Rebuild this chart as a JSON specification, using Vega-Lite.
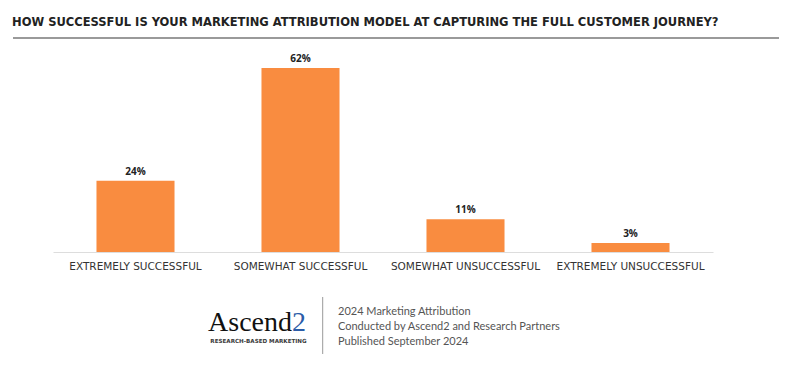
{
  "$schema": "https://vega.github.io/schema/vega-lite/v6.json",
  "background": "white",
  "padding": {"left": 12, "right": 12, "top": 16, "bottom": 0},
  "config": {"view": {"stroke": null}},
  "title": {
    "text": "HOW SUCCESSFUL IS YOUR MARKETING ATTRIBUTION MODEL AT CAPTURING THE FULL CUSTOMER JOURNEY?",
    "anchor": "start",
    "font": "DejaVu Sans Condensed",
    "fontSize": 12.8,
    "fontWeight": "bold",
    "color": "#222222",
    "offset": 8
  },
  "width": 766,
  "height": 320,
  "data": {"values": [
    {"response": "EXTREMELY SUCCESSFUL", "share": 0.24},
    {"response": "SOMEWHAT SUCCESSFUL", "share": 0.62},
    {"response": "SOMEWHAT UNSUCCESSFUL", "share": 0.11},
    {"response": "EXTREMELY UNSUCCESSFUL", "share": 0.03}
  ]},
  "resolve": {"scale": {"x": "independent"}, "axis": {"x": "independent"}},
  "layer": [
    {
      "mark": {"type": "bar", "color": "#F98C40"},
      "encoding": {
        "x": {
          "field": "response", "type": "nominal", "sort": null,
          "scale": {"range": [40, 700], "paddingInner": 0.527, "paddingOuter": 0.2635},
          "axis": {
            "title": null, "labelAngle": 0, "ticks": false, "offset": -106,
            "domainColor": "#dddddd", "domainWidth": 1,
            "labelFont": "DejaVu Sans", "labelFontSize": 10.5, "labelColor": "#333333",
            "labelPadding": 9
          }
        },
        "y": {"field": "share", "type": "quantitative", "scale": {"domain": [-0.3572, 0.7211], "nice": false, "zero": false}, "axis": null}
      }
    },
    {
      "mark": {"type": "text", "baseline": "bottom", "dy": -4, "font": "Open Sans", "fontWeight": "bold", "fontSize": 10, "color": "#222222"},
      "encoding": {
        "x": {
          "field": "response", "type": "nominal", "sort": null,
          "scale": {"range": [40, 700], "paddingInner": 0.527, "paddingOuter": 0.2635},
          "axis": null
        },
        "y": {"field": "share", "type": "quantitative"},
        "text": {"field": "share", "type": "quantitative", "format": ".0%"}
      }
    },
    {
      "data": {"values": [{"rule": "header"}]},
      "mark": {"type": "rule", "color": "#9a9a9a", "strokeWidth": 2},
      "encoding": {"y": {"datum": 0.7211, "type": "quantitative"}}
    },
    {
      "data": {"values": [{"line": "2024 Marketing Attribution"}]},
      "mark": {"type": "text", "align": "left", "baseline": "middle", "font": "Lato", "fontSize": 11, "color": "#555555"},
      "encoding": {
        "x": {"datum": 325, "type": "quantitative", "scale": {"domain": [0, 766], "nice": false}, "axis": null},
        "y": {"datum": -0.2022, "type": "quantitative"},
        "text": {"field": "line"}
      }
    },
    {
      "data": {"values": [{"line": "Conducted by Ascend2 and Research Partners"}]},
      "mark": {"type": "text", "align": "left", "baseline": "middle", "font": "Lato", "fontSize": 11, "color": "#555555"},
      "encoding": {
        "x": {"datum": 325, "type": "quantitative", "scale": {"domain": [0, 766], "nice": false}, "axis": null},
        "y": {"datum": -0.2527, "type": "quantitative"},
        "text": {"field": "line"}
      }
    },
    {
      "data": {"values": [{"line": "Published September 2024"}]},
      "mark": {"type": "text", "align": "left", "baseline": "middle", "font": "Lato", "fontSize": 11, "color": "#555555"},
      "encoding": {
        "x": {"datum": 325, "type": "quantitative", "scale": {"domain": [0, 766], "nice": false}, "axis": null},
        "y": {"datum": -0.3033, "type": "quantitative"},
        "text": {"field": "line"}
      }
    },
    {
      "data": {"values": [{"brand": "Ascend"}]},
      "mark": {"type": "text", "align": "right", "baseline": "alphabetic", "font": "Liberation Serif", "fontSize": 28, "color": "#111111"},
      "encoding": {
        "x": {"datum": 279, "type": "quantitative", "scale": {"domain": [0, 766], "nice": false}, "axis": null},
        "y": {"datum": -0.2662, "type": "quantitative"},
        "text": {"field": "brand"}
      }
    },
    {
      "data": {"values": [{"brand": "2"}]},
      "mark": {"type": "text", "align": "left", "baseline": "alphabetic", "font": "Liberation Serif", "fontSize": 28, "color": "#2B5CA8"},
      "encoding": {
        "x": {"datum": 279, "type": "quantitative", "scale": {"domain": [0, 766], "nice": false}, "axis": null},
        "y": {"datum": -0.2662, "type": "quantitative"},
        "text": {"field": "brand"}
      }
    },
    {
      "data": {"values": [{"tag": "RESEARCH-BASED MARKETING"}]},
      "mark": {"type": "text", "align": "center", "baseline": "middle", "font": "DejaVu Sans", "fontSize": 5.6, "fontWeight": "bold", "color": "#3a3a3a"},
      "encoding": {
        "x": {"datum": 245.5, "type": "quantitative", "scale": {"domain": [0, 766], "nice": false}, "axis": null},
        "y": {"datum": -0.2999, "type": "quantitative"},
        "text": {"field": "tag"}
      }
    },
    {
      "data": {"values": [{"part": "divider"}]},
      "mark": {"type": "rule", "color": "#999999", "strokeWidth": 1},
      "encoding": {
        "x": {"datum": 309.7, "type": "quantitative", "scale": {"domain": [0, 766], "nice": false}, "axis": null},
        "y": {"datum": -0.1516, "type": "quantitative"},
        "y2": {"datum": -0.3437}
      }
    }
  ]
}
